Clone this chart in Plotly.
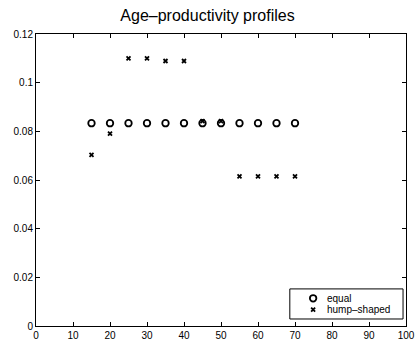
import plotly.graph_objects as go

ages = [15, 20, 25, 30, 35, 40, 45, 50, 55, 60, 65, 70]
equal = [1/12] * 12
hump = [0.0703, 0.0791, 0.1100, 0.1100, 0.1089, 0.1089, 0.0842, 0.0842, 0.0615, 0.0615, 0.0615, 0.0615]
xticks = [0, 10, 20, 30, 40, 50, 60, 70, 80, 90, 100]
yticks = [0, 0.02, 0.04, 0.06, 0.08, 0.1, 0.12]
ytick_text = ["0", "0.02", "0.04", "0.06", "0.08", "0.1", "0.12"]
series_names = ["equal", "hump\u2013shaped"]

FONT = "Liberation Sans, Arial"
circle_marker = dict(symbol="circle-open", size=6.5, color="black", line=dict(width=1.8))
x_marker = dict(symbol="x-thin-open", size=4, color="black", line=dict(width=1.8))

fig = go.Figure()
fig.add_trace(go.Scatter(x=ages, y=equal, mode="markers", name=series_names[0], marker=circle_marker))
fig.add_trace(go.Scatter(x=ages, y=hump, mode="markers", name=series_names[1], marker=x_marker))

# custom legend (MATLAB-style compact box)
leg_x0, leg_x1, leg_y0, leg_y1 = 0.686, 0.992, 0.024, 0.127
sym_x, txt_x = 0.749, 0.786
row_y = [0.0949, 0.0558]
fig.add_shape(type="rect", xref="paper", yref="paper", x0=leg_x0, x1=leg_x1, y0=leg_y0, y1=leg_y1,
              line=dict(color="black", width=1), fillcolor="white", layer="below")
for i, (nm, mk) in enumerate(zip(series_names, [circle_marker, x_marker])):
    fig.add_trace(go.Scatter(x=[sym_x], y=[row_y[i]], xaxis="x2", yaxis="y2", mode="markers",
                             marker=mk, showlegend=False, hoverinfo="skip"))
    fig.add_annotation(xref="paper", yref="paper", x=txt_x, y=row_y[i], text=nm, showarrow=False,
                       xanchor="left", yanchor="middle", xshift=-2,
                       font=dict(family=FONT, size=10, color="black"))

axis_common = dict(showgrid=False, zeroline=False, showline=True, linecolor="black", linewidth=1,
                   mirror="ticks", ticks="inside", ticklen=4, tickcolor="black", automargin=False,
                   tickfont=dict(family=FONT, size=10, color="black"))
fig.update_layout(
    width=415, height=340,
    margin=dict(l=36, r=9, t=34, b=14),
    paper_bgcolor="white", plot_bgcolor="white",
    title=dict(text="Age\u2013productivity profiles", x=0.5, xanchor="center", y=0.955, yanchor="middle",
               font=dict(family=FONT, size=16, color="black")),
    xaxis=dict(range=[0, 100], tickvals=xticks, **axis_common),
    yaxis=dict(range=[0, 0.12], tickvals=yticks, ticktext=ytick_text, **axis_common),
    xaxis2=dict(range=[0, 1], overlaying="x", visible=False, fixedrange=True),
    yaxis2=dict(range=[0, 1], overlaying="y", visible=False, fixedrange=True),
    showlegend=False,
)
fig.write_html("out.html")
